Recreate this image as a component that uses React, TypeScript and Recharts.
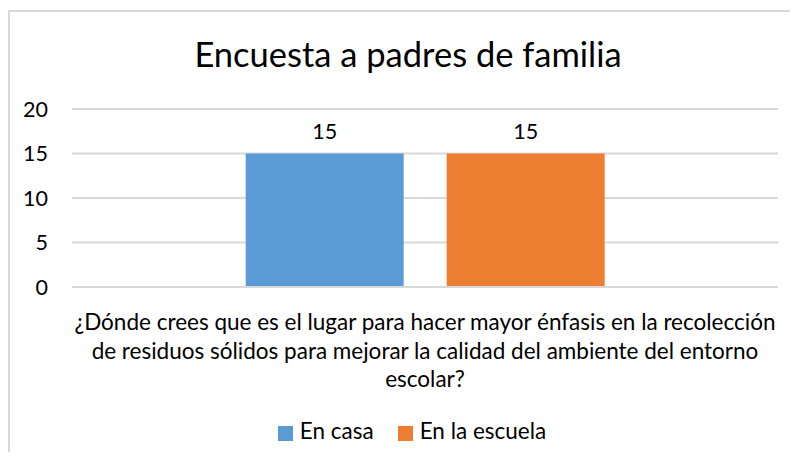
import { BarChart, Bar, XAxis, YAxis, CartesianGrid, Legend, LabelList } from 'recharts';

const TITLE = 'Encuesta a padres de familia';
const CATEGORY = '¿Dónde crees que es el lugar para hacer mayor énfasis en la recolección de residuos sólidos para mejorar la calidad del ambiente del entorno escolar?';
const CATEGORY_LINES = [
  '¿Dónde crees que es el lugar para hacer mayor énfasis en la recolección',
  'de residuos sólidos para mejorar la calidad del ambiente del entorno',
  'escolar?',
];
const SERIES = ['En casa', 'En la escuela'];
const VALUES = [15, 15];
const COLORS = ['#5B9BD5', '#ED7D31'];
const Y_TICKS = [0, 5, 10, 15, 20];

const FONT = 'Lato, "Open Sans", sans-serif';

const data = [
  { name: CATEGORY, [SERIES[0]]: VALUES[0], [SERIES[1]]: VALUES[1] },
];

const CategoryTick = ({ x, y }: any) => (
  <text x={x} y={y} textAnchor="middle" fill="#000" fontSize={22.5} fontFamily={FONT}>
    {CATEGORY_LINES.map((line, i) => (
      <tspan key={i} x={x} dy={i === 0 ? 35 : 28.5}>{line}</tspan>
    ))}
  </text>
);

export default function App() {
  return (
    <div style={{ paddingTop: 2 }}>
      <div
        style={{
          position: 'relative',
          width: 788,
          height: 440,
          borderTop: '2px solid #d9d9d9',
          borderLeft: '2px solid #d9d9d9',
          fontFamily: FONT,
        }}
      >
        <div
          style={{
            position: 'absolute',
            left: 0,
            top: 20,
            width: 796,
            textAlign: 'center',
            fontSize: 34.5,
            lineHeight: '44px',
            color: '#000',
          }}
        >
          {TITLE}
        </div>
        <BarChart
          width={788}
          height={440}
          data={data}
          margin={{ top: 97, right: 20, left: 0, bottom: 0 }}
          barCategoryGap="24.6%"
          barGap={43}
        >
          <CartesianGrid stroke="#d9d9d9" strokeWidth={2} vertical={false} />
          <XAxis
            dataKey="name"
            height={165}
            axisLine={{ stroke: '#d9d9d9', strokeWidth: 2 }}
            tickLine={false}
            tick={<CategoryTick />}
            interval={0}
          />
          <YAxis
            width={62}
            domain={[0, 20]}
            ticks={Y_TICKS}
            axisLine={false}
            tickLine={false}
            tickSize={0}
            tickMargin={24}
            tick={{ fontSize: 21.5, fill: '#000', fontFamily: FONT }}
          />
          <Legend
            verticalAlign="middle"
            align="center"
            iconType="square"
            iconSize={15}
            wrapperStyle={{ top: 405, left: 8, width: 812, fontSize: 22.5, color: '#000' }}
            formatter={(value: string) => (
              <span style={{ color: '#000', marginLeft: 3, marginRight: 14 }}>{value}</span>
            )}
          />
          {SERIES.map((s, i) => (
            <Bar key={s} dataKey={s} fill={COLORS[i]} isAnimationActive={false}>
              <LabelList dataKey={s} position="top" offset={15} fill="#000" fontSize={21.5} fontFamily={FONT} />
            </Bar>
          ))}
        </BarChart>
      </div>
    </div>
  );
}
